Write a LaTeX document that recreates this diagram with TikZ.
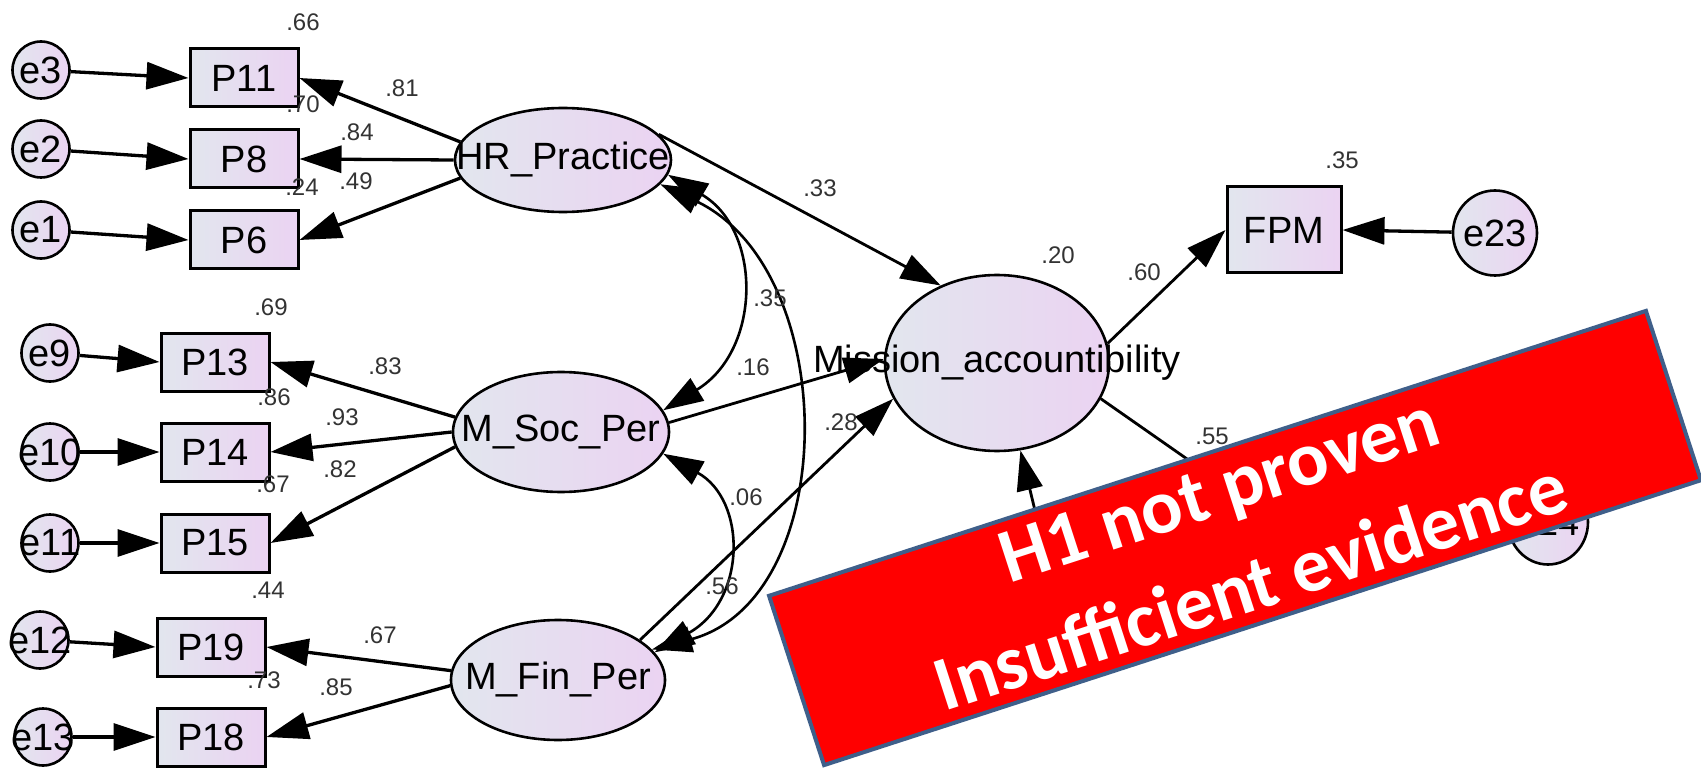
\documentclass[tikz,border=0pt]{standalone}
\usepackage{fontspec}
\setmainfont{Liberation Sans}
\newfontfamily\bannerfont{Carlito}
\usetikzlibrary{arrows.meta,shapes.geometric}
\definecolor{gL}{HTML}{E2E6EE}
\definecolor{gR}{HTML}{EBD3F2}
\definecolor{bannerline}{HTML}{3F5F8A}
\newcommand{\zw}[1]{\makebox[0pt][c]{#1}}
\begin{document}
\begin{tikzpicture}[x=1pt,y=-1pt,
  obs/.style={draw, line width=3pt, minimum width=108pt, minimum height=58pt, inner sep=0pt,
    left color=gL, right color=gR, font=\fontsize{38}{40}\selectfont},
  lat/.style={ellipse, draw, line width=2.6pt, inner sep=0pt,
    left color=gL, right color=gR, font=\fontsize{38}{40}\selectfont},
  err/.style={ellipse, draw, line width=2.6pt, inner sep=0pt, minimum width=57pt, minimum height=57pt,
    left color=gL, right color=gR, font=\fontsize{38}{40}\selectfont},
  lbl/.style={font=\fontsize{24}{26}\selectfont, text=black!80, inner sep=0pt},
  arr/.style={line width=3.3pt, -{Triangle[length=42pt,width=27pt]}},
  sarr/.style={line width=2.8pt, -{Triangle[length=40pt,width=26pt]}},
  dbl/.style={line width=2.6pt, {Triangle[length=40pt,width=26pt]}-{Triangle[length=40pt,width=26pt]}},
]
\useasboundingbox (0,0) rectangle (1701,770);
\fill[white] (0,0) rectangle (1701,770);

% error terms
\node[err] (e3) at (41,70) {\zw{e3}};
\node[err] (e2) at (41,149) {\zw{e2}};
\node[err] (e1) at (41,230) {\zw{e1}};
\node[err] (e9) at (50,353) {\zw{e9}};
\node[err] (e10) at (50,452) {\zw{e10}};
\node[err] (e11) at (50,543) {\zw{e11}};
\node[err] (e12) at (40,640) {\zw{e12}};
\node[err] (e13) at (43,737) {\zw{e13}};
\node[err, minimum width=84pt, minimum height=85pt] (e23) at (1495,233) {\zw{e23}};
\node[err, minimum width=80pt, minimum height=85pt] (e24) at (1548,522) {\zw{e24}};

% observed variables
\node[obs] (P11) at (244,78) {P11};
\node[obs] (P8) at (244,159) {P8};
\node[obs] (P6) at (244,240) {P6};
\node[obs] (P13) at (215,362) {P13};
\node[obs] (P14) at (215,452) {P14};
\node[obs] (P15) at (215,543) {P15};
\node[obs] (P19) at (211,647) {P19};
\node[obs] (P18) at (211,737) {P18};
\node[obs, minimum width=114pt, minimum height=86pt] (FPM) at (1284,230) {FPM};

% latent variables
\node[lat, minimum width=216pt, minimum height=104pt] (HR) at (563,160) {\zw{HR\_Practice}};
\node[lat, minimum width=216pt, minimum height=120pt] (Soc) at (561,432) {\zw{M\_Soc\_Per}};
\node[lat, minimum width=214pt, minimum height=120pt] (Fin) at (558,680) {\zw{M\_Fin\_Per}};
\node[lat, minimum width=224pt, minimum height=176pt] (MA) at (997,363) {\zw{Mission\_accountibility}};

\coordinate (h55) at (1230,489);
\coordinate (hZ) at (1047,560);

% error arrows
\draw[arr] (e3) -- (P11.west);
\draw[arr] (e2) -- (P8.west);
\draw[arr] (e1) -- (P6.west);
\draw[arr] (e9) -- (P13.west);
\draw[arr] (e10) -- (P14.west);
\draw[arr] (e11) -- (P15.west);
\draw[arr] (e12) -- (P19.west);
\draw[arr] (e13) -- (P18.west);
\draw[arr] (e23) -- (FPM.east);

% loadings
\draw[arr] (HR.170) -- (P11.east);
\draw[arr] (HR.180) -- (P8.east);
\draw[arr] (HR.190) -- (P6.east);
\draw[arr] (Soc.172) -- (P13.east);
\draw[arr] (Soc.180) -- (P14.east);
\draw[arr] (Soc.188) -- (P15.east);
\draw[arr] (Fin.175) -- (P19.east);
\draw[arr] (Fin.183) -- (P18.east);

% structural paths
\draw[sarr] (HR.15) -- (MA.126);
\draw[sarr] (Soc.5) -- (MA.178);
\draw[sarr] (Fin.26) -- (MA.199);
\draw[sarr] (MA.10) -- (FPM.west);
\draw[sarr] (MA.-19) -- (h55);
\draw[sarr] (hZ) -- (MA.-75);

% covariances
\draw[dbl] (HR.-8) .. controls (762,230) and (762,350) .. (Soc.12);
\draw[dbl] (HR.-14) .. controls (842,270) and (842,600) .. (Fin.18);
\draw[dbl] (Soc.-12) .. controls (747,500) and (747,600) .. (Fin.16);

% estimates
\node[lbl] (l66) at (303,22) {.66};
\node[lbl] (l81) at (402,88) {.81};
\node[lbl] (l70) at (303,104) {.70};
\node[lbl] (l84) at (357,132) {.84};
\node[lbl] (l24) at (302,187) {.24};
\node[lbl] (l49) at (356,181) {.49};
\node[lbl] (l69) at (271,307) {.69};
\node[lbl] (l83) at (385,366) {.83};
\node[lbl] (l86) at (274,397) {.86};
\node[lbl] (l93) at (342,417) {.93};
\node[lbl] (l82) at (340,469) {.82};
\node[lbl] (l67a) at (273,484) {.67};
\node[lbl] (l44) at (268,590) {.44};
\node[lbl] (l67b) at (380,635) {.67};
\node[lbl] (l73) at (264,680) {.73};
\node[lbl] (l85) at (336,687) {.85};
\node[lbl] (l33) at (820,188) {.33};
\node[lbl] (l35a) at (770,298) {.35};
\node[lbl] (l16) at (753,367) {.16};
\node[lbl] (l28) at (841,422) {.28};
\node[lbl] (l06) at (746,497) {.06};
\node[lbl] (l56) at (722,586) {.56};
\node[lbl] (l20) at (1058,255) {.20};
\node[lbl] (l60) at (1144,272) {.60};
\node[lbl] (l55) at (1212,436) {.55};
\node[lbl] (l35b) at (1342,160) {.35};

% banner
\node[draw=bannerline, line width=4pt, fill=red, rotate=18, minimum width=922pt, minimum height=178pt,
  inner sep=0pt, text=white, align=center,
  font=\bannerfont\bfseries\fontsize{77}{102}\selectfont] (banner) at (1235,538)
  {H1 not proven\\Insufficient evidence};
\end{tikzpicture}
\end{document}
